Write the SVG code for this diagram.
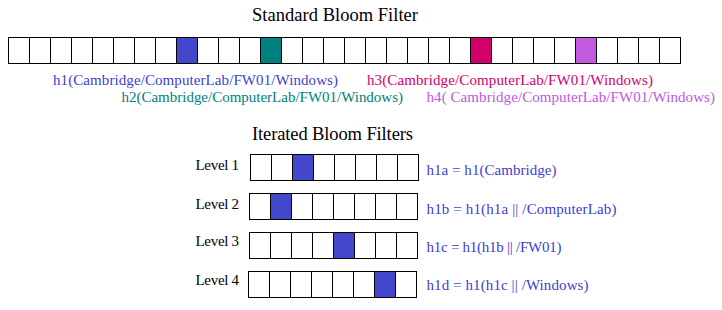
<svg xmlns="http://www.w3.org/2000/svg" width="722" height="310" viewBox="0 0 722 310">
<style>
text{font-family:'Liberation Serif','Times New Roman','DejaVu Serif',serif;}
.title{font-size:18.5px;fill:#000;}
.lbl{font-size:15px;}
.lvl{font-size:15px;fill:#000;}
.box{fill:none;stroke:#000;stroke-width:1;}
.blue{fill:#4347CB;}
.teal{fill:#008080;}
.crim{fill:#D2006A;}
.purp{fill:#C45AE2;}
.tblue{fill:#4040D0;}
.tteal{fill:#008080;}
.tcrim{fill:#D0006A;}
.tpurp{fill:#C058E0;}
</style>
<rect width="722" height="310" fill="#fff"/>
<g font-family="Liberation Serif, Times New Roman, serif">
<text class="title" x="252" y="21" textLength="166" lengthAdjust="spacing">Standard Bloom Filter</text>
<g id="standard-filter">
<rect class="blue" x="176.5" y="37.5" width="21" height="26"/>
<rect class="teal" x="260.5" y="37.5" width="21" height="26"/>
<rect class="crim" x="470.5" y="37.5" width="21" height="26"/>
<rect class="purp" x="575.5" y="37.5" width="21" height="26"/>
<rect class="box" x="8.5" y="37.5" width="672" height="26"/>
<path class="box" d="M29.5 37.5v26M50.5 37.5v26M71.5 37.5v26M92.5 37.5v26M113.5 37.5v26M134.5 37.5v26M155.5 37.5v26M176.5 37.5v26M197.5 37.5v26M218.5 37.5v26M239.5 37.5v26M260.5 37.5v26M281.5 37.5v26M302.5 37.5v26M323.5 37.5v26M344.5 37.5v26M365.5 37.5v26M386.5 37.5v26M407.5 37.5v26M428.5 37.5v26M449.5 37.5v26M470.5 37.5v26M491.5 37.5v26M512.5 37.5v26M533.5 37.5v26M554.5 37.5v26M575.5 37.5v26M596.5 37.5v26M617.5 37.5v26M638.5 37.5v26M659.5 37.5v26"/>
</g>
<g id="hash-labels">
<text class="lbl tblue" x="53" y="85" textLength="285" lengthAdjust="spacing">h1(Cambridge/ComputerLab/FW01/Windows)</text>
<text class="lbl tteal" x="121.5" y="101.5" textLength="281.5" lengthAdjust="spacing">h2(Cambridge/ComputerLab/FW01/Windows)</text>
<text class="lbl tcrim" x="367" y="85" textLength="286" lengthAdjust="spacing">h3(Cambridge/ComputerLab/FW01/Windows)</text>
<text class="lbl tpurp" x="426.5" y="101.5" textLength="288.5" lengthAdjust="spacing">h4( Cambridge/ComputerLab/FW01/Windows)</text>
</g>
<text class="title" x="252" y="139.5" textLength="161" lengthAdjust="spacing">Iterated Bloom Filters</text>
<g id="level1">
<text class="lvl" x="195.5" y="170" textLength="43.5" lengthAdjust="spacing">Level 1</text>
<rect class="blue" x="292.5" y="154.5" width="21" height="26"/>
<rect class="box" x="250.5" y="154.5" width="168" height="26"/>
<path class="box" d="M271.5 154.5v26M292.5 154.5v26M313.5 154.5v26M334.5 154.5v26M355.5 154.5v26M376.5 154.5v26M397.5 154.5v26"/>
<text class="lbl tblue" x="426.5" y="175" textLength="130" lengthAdjust="spacing">h1a = h1(Cambridge)</text>
</g>
<g id="level2">
<text class="lvl" x="195.5" y="208.5" textLength="43.5" lengthAdjust="spacing">Level 2</text>
<rect class="blue" x="270.5" y="193.5" width="21" height="26"/>
<rect class="box" x="249.5" y="193.5" width="168" height="26"/>
<path class="box" d="M270.5 193.5v26M291.5 193.5v26M312.5 193.5v26M333.5 193.5v26M354.5 193.5v26M375.5 193.5v26M396.5 193.5v26"/>
<text class="lbl tblue" x="426.5" y="213.5" textLength="190" lengthAdjust="spacing">h1b = h1(h1a || /ComputerLab)</text>
</g>
<g id="level3">
<text class="lvl" x="195.5" y="246" textLength="43.5" lengthAdjust="spacing">Level 3</text>
<rect class="blue" x="333.5" y="232.5" width="21" height="26"/>
<rect class="box" x="249.5" y="232.5" width="168" height="26"/>
<path class="box" d="M270.5 232.5v26M291.5 232.5v26M312.5 232.5v26M333.5 232.5v26M354.5 232.5v26M375.5 232.5v26M396.5 232.5v26"/>
<text class="lbl tblue" x="426.5" y="251.5" textLength="135" lengthAdjust="spacing">h1c = h1(h1b || /FW01)</text>
</g>
<g id="level4">
<text class="lvl" x="195.5" y="285" textLength="43.5" lengthAdjust="spacing">Level 4</text>
<rect class="blue" x="374.5" y="271.5" width="21" height="26"/>
<rect class="box" x="248.5" y="271.5" width="168" height="26"/>
<path class="box" d="M269.5 271.5v26M290.5 271.5v26M311.5 271.5v26M332.5 271.5v26M353.5 271.5v26M374.5 271.5v26M395.5 271.5v26"/>
<text class="lbl tblue" x="426.5" y="289.5" textLength="162" lengthAdjust="spacing">h1d = h1(h1c || /Windows)</text>
</g>
</g>
<g id="connectors"></g>
</svg>
